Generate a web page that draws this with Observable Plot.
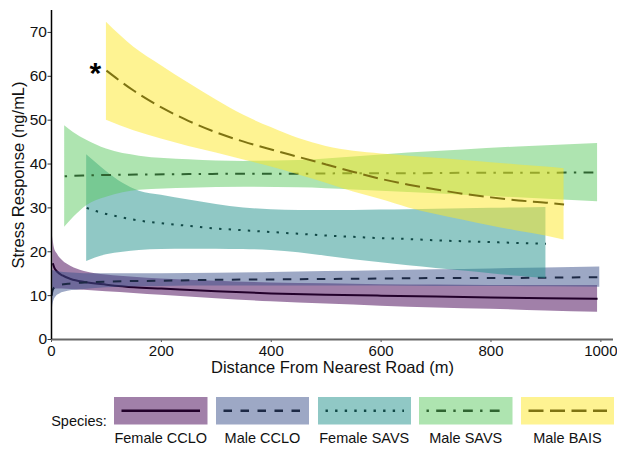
<!DOCTYPE html>
<html><head><meta charset="utf-8">
<script src="https://cdn.jsdelivr.net/npm/d3@7"></script>
<script src="https://cdn.jsdelivr.net/npm/@observablehq/plot@0.6"></script>
<style>
body{margin:0;background:#fff;font-family:"Liberation Sans",Arial,sans-serif;}
#chart{width:617px;height:380px;}
#legend{position:relative;width:617px;height:69px;color:#111;}
.lab{position:absolute;font-size:14.5px;white-space:nowrap;transform:translate(-50%,-50%);}
.box{position:absolute;}
</style></head><body>
<div id="chart"></div><div id="legend"></div>
<script>
// ---- data ----
const species = ["Female CCLO", "Male CCLO", "Female SAVS", "Male SAVS", "Male BAIS"];
const bandColors = ["#440154", "#3b528b", "#21918c", "#5ec962", "#fde725"];
const lineColors = ["#22002a", "#1d2945", "#104846", "#2f6431", "#7e7312"];
const dashes = [null, "8.5,8.5", "2.4,7.2", "2.4,7.3,9.8,7.3", "15,6.5"];

const fccloX   = [2.4, 5, 10, 20, 35, 60, 100, 150, 200, 300, 400, 500, 600, 700, 800, 900, 994];
const fccloFit = [17.4, 16.4, 15.5, 14.6, 13.8, 13.1, 12.5, 11.9, 11.6, 11.0, 10.5, 10.2, 10.0, 9.8, 9.6, 9.4, 9.3];
const fccloHi  = [23.5, 21.0, 19.6, 18.0, 16.7, 15.5, 14.7, 14.2, 13.8, 13.3, 12.9, 12.7, 12.5, 12.4, 12.3, 12.3, 12.3];
const fccloLo  = [11.3, 11.5, 11.5, 11.5, 11.4, 11.2, 10.9, 10.5, 10.1, 9.3, 8.6, 8.1, 7.6, 7.2, 6.9, 6.5, 6.2];

const mccloX   = [0.5, 1, 2, 4, 8, 15, 30, 60, 100, 200, 300, 400, 500, 600, 700, 800, 900, 998];
const mccloFit = [10.0, 10.6, 11.2, 11.7, 12.1, 12.4, 12.7, 13.0, 13.2, 13.4, 13.6, 13.7, 13.8, 13.9, 14.0, 14.0, 14.1, 14.2];
const mccloHi  = [15.4, 15.6, 15.7, 15.7, 15.6, 15.4, 15.2, 15.0, 15.0, 15.0, 15.1, 15.3, 15.5, 15.7, 15.9, 16.1, 16.3, 16.5];
const mccloLo  = [4.5, 6.0, 7.4, 8.7, 9.7, 10.4, 11.0, 11.4, 11.8, 12.1, 12.2, 12.2, 12.2, 12.2, 12.1, 12.1, 12.0, 11.9];

const fsavsX   = [64, 80, 100, 130, 160, 200, 250, 300, 350, 400, 450, 500, 550, 600, 650, 700, 750, 800, 850, 900];
const fsavsFit = [30.0, 29.3, 28.6, 27.8, 27.1, 26.5, 25.9, 25.3, 24.9, 24.5, 24.1, 23.7, 23.4, 23.1, 22.9, 22.6, 22.4, 22.2, 22.0, 21.8];
const fsavsHi  = [42.1, 40.4, 38.3, 35.6, 33.8, 32.9, 31.8, 30.8, 30.0, 29.6, 29.4, 29.4, 29.4, 29.5, 29.6, 29.7, 29.8, 29.9, 30.0, 30.1];
const fsavsLo  = [17.8, 18.6, 19.3, 19.9, 20.3, 20.5, 20.6, 20.6, 20.5, 20.3, 19.8, 19.0, 18.2, 17.5, 16.8, 16.2, 15.6, 15.0, 14.4, 13.9];

const msavsX   = [24, 40, 64, 100, 160, 250, 350, 450, 550, 650, 750, 850, 994];
const msavsFit = [37.2, 37.3, 37.4, 37.5, 37.6, 37.7, 37.8, 37.8, 37.9, 37.9, 38.0, 38.0, 38.1];
const msavsHi  = [48.7, 47.2, 45.4, 43.4, 41.8, 41.0, 40.6, 40.8, 41.6, 42.5, 43.2, 43.9, 44.7];
const msavsLo  = [25.6, 27.8, 30.5, 32.4, 34.0, 34.5, 34.7, 34.6, 34.1, 33.5, 32.9, 32.3, 31.4];

const mbaisX   = [100, 150, 200, 250, 300, 350, 400, 450, 500, 550, 600, 650, 700, 750, 800, 850, 900, 933];
const mbaisFit = [61.3, 56.7, 52.9, 49.8, 47.2, 45.1, 43.3, 41.6, 39.9, 38.2, 36.6, 35.3, 34.2, 33.2, 32.4, 31.7, 31.2, 30.8];
const mbaisHi  = [72.3, 66.6, 62.4, 58.4, 54.6, 51.1, 48.3, 45.8, 44.0, 42.9, 42.3, 41.8, 41.3, 40.8, 40.3, 39.8, 39.3, 38.9];
const mbaisLo  = [50.0, 47.6, 45.7, 44.0, 42.5, 40.9, 39.3, 37.5, 35.6, 33.6, 31.9, 30.0, 28.5, 27.2, 25.9, 24.7, 23.6, 22.7];

const asteriskX = [80];
const asteriskY = [60.7];

const xTicks = [0, 200, 400, 600, 800, 1000];
const yTicks = [0, 10, 20, 30, 40, 50, 60, 70];
const xTitle = "Distance From Nearest Road (m)";
const yTitle = "Stress Response (ng/mL)";
const legendTitle = "Species:";

// ---- build tables ----
const seriesDefs = [
  [fccloX, fccloFit, fccloLo, fccloHi],
  [mccloX, mccloFit, mccloLo, mccloHi],
  [fsavsX, fsavsFit, fsavsLo, fsavsHi],
  [msavsX, msavsFit, msavsLo, msavsHi],
  [mbaisX, mbaisFit, mbaisLo, mbaisHi]
];
const tables = seriesDefs.map(([xs, f, lo, hi], i) =>
  xs.map((x, j) => ({species: species[i], x, fit: f[j], lo: lo[j], hi: hi[j]})));

const marks = [];
tables.forEach((t, i) => {
  marks.push(Plot.areaY(t, {x: "x", y1: "lo", y2: "hi", fill: bandColors[i], fillOpacity: 0.5, curve: "monotone-x"}));
  marks.push(Plot.line(t, {x: "x", y: "fit", stroke: lineColors[i], strokeWidth: 2, strokeDasharray: dashes[i], strokeLinecap: "butt", curve: "monotone-x"}));
});

const chart = Plot.plot({
  width: 617, height: 380,
  marginLeft: 51, marginRight: 4, marginTop: 10, marginBottom: 41,
  style: {fontFamily: '"Liberation Sans", Arial, sans-serif', background: "#fff", color: "#111"},
  x: {domain: [0, 1023]},
  y: {domain: [0, 75]},
  marks: [
    ...marks,
    Plot.text(asteriskX.map((x, i) => ({x, y: asteriskY[i]})), {x: "x", y: "y", text: () => "*", fontSize: 30, fontWeight: "bold", fill: "#000"}),
    Plot.axisX({ticks: xTicks, tickFormat: d => String(d), tickSize: 3, tickPadding: 3, fontSize: 15, label: null, stroke: "#555", fill: "#111"}),
    Plot.axisY({ticks: yTicks, tickFormat: d => String(d), tickSize: 3.5, tickPadding: 1, fontSize: 15.5, label: null, stroke: "#333", fill: "#111"}),
    Plot.ruleY([0], {stroke: "#666", strokeWidth: 2}),
    Plot.ruleX([0], {stroke: "#000", strokeWidth: 1.5}),
    Plot.text([xTitle], {frameAnchor: "bottom", lineAnchor: "middle", dy: 28, fontSize: 16.5, fill: "#111"}),
    Plot.text([yTitle], {frameAnchor: "left", textAnchor: "middle", lineAnchor: "middle", dx: -33, rotate: -90, fontSize: 16.5, fill: "#111"})
  ]
});
document.getElementById("chart").appendChild(chart);

// ---- legend ----
const legend = document.getElementById("legend");
const boxX = [114, 215.7, 317.5, 419, 520.7];
const boxW = 93.5, boxTop = 17, boxH = 27.5;
const lt = document.createElement("div");
lt.className = "lab";
lt.textContent = legendTitle;
lt.style.left = "79px"; lt.style.top = "41px"; lt.style.fontSize = "14.5px";
legend.appendChild(lt);
species.forEach((s, i) => {
  const ns = "http://www.w3.org/2000/svg";
  const svg = document.createElementNS(ns, "svg");
  svg.setAttribute("class", "box");
  svg.setAttribute("width", boxW); svg.setAttribute("height", boxH);
  svg.style.left = boxX[i] + "px"; svg.style.top = boxTop + "px";
  const r = document.createElementNS(ns, "rect");
  r.setAttribute("width", boxW); r.setAttribute("height", boxH);
  r.setAttribute("fill", bandColors[i]); r.setAttribute("fill-opacity", 0.5);
  svg.appendChild(r);
  const l = document.createElementNS(ns, "line");
  l.setAttribute("x1", 7.5); l.setAttribute("x2", boxW - 7.5);
  l.setAttribute("y1", boxH / 2); l.setAttribute("y2", boxH / 2);
  l.setAttribute("stroke", lineColors[i]); l.setAttribute("stroke-width", 2.7);
  if (dashes[i]) l.setAttribute("stroke-dasharray", dashes[i]);
  svg.appendChild(l);
  legend.appendChild(svg);
  const lab = document.createElement("div");
  lab.className = "lab";
  lab.textContent = s;
  lab.style.left = (boxX[i] + boxW / 2) + "px";
  lab.style.top = "58px";
  legend.appendChild(lab);
});
</script>
</body></html>
